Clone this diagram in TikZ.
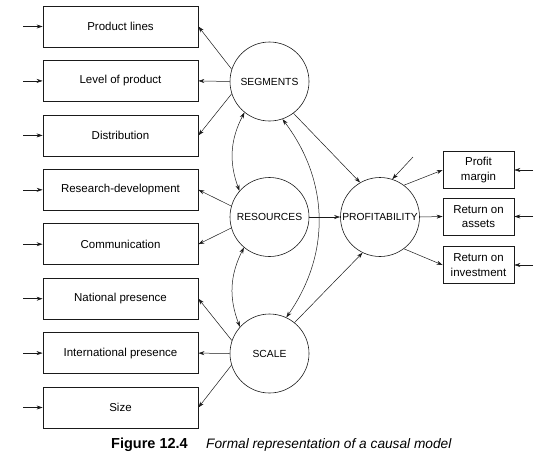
\documentclass[tikz,border=0pt]{standalone}
\usepackage{fontspec}
\setmainfont{Liberation Sans}
\usepackage{tikz}
\usetikzlibrary{arrows.meta,positioning}
\definecolor{cline}{HTML}{1A1A1A}
\tikzset{
  item/.style={draw=cline, line width=0.8pt, rectangle, minimum width=155pt, minimum height=41pt, inner sep=2pt, font=\fontsize{11.5}{14.5}\selectfont},
  ritem/.style={item, minimum width=71pt, minimum height=37pt, align=center},
  factor/.style={draw=cline, line width=0.6pt, circle, minimum size=79pt, inner sep=0pt, font=\fontsize{10.3}{12}\selectfont},
  pre/.style={-{Stealth[length=6pt,width=4pt]}, line width=0.5pt, cline},
  both/.style={{Stealth[length=6pt,width=4pt]}-{Stealth[length=6pt,width=4pt]}, line width=0.5pt, cline},
  lbl/.style={anchor=west, inner sep=0pt, font=\fontsize{13.5}{15}\selectfont},
}
\begin{document}
\begin{tikzpicture}[x=1pt,y=-1pt]
\useasboundingbox (0,0) rectangle (548,475);
% latent factors
\node[factor] (seg) at (269.5,81.5) {SEGMENTS};
\node[factor] (res) at (269.5,217) {RESOURCES};
\node[factor] (scl) at (269.5,353.5) {SCALE};
\node[factor] (prof) at (380,217) {PROFITABILITY};
% indicators on the left
\foreach \n/\y/\t in {
  pl/26.5/Product lines,
  lp/80.9/Level of product,
  dist/135.4/Distribution,
  rd/189.8/Research-development,
  comm/244.2/Communication,
  nat/298.7/National presence,
  intl/353.1/International presence,
  size/407.5/Size}{
  \node[item] (\n) at (120.5,\y) {\t};
  \coordinate (\n-in) at (23,\y);
  \draw[pre] (\n-in) -- (\n);
}
% indicators on the right
\foreach \n/\y/\t in {
  pm/170/{Profit\\margin},
  roa/216.5/{Return on\\assets},
  roi/265/{Return on\\investment}}{
  \node[ritem] (\n) at (478.5,\y) {\t};
  \coordinate (\n-in) at (533,\y);
  \draw[pre] (\n-in) -- (\n);
}
% loadings
\draw[pre] (seg.162) -- (pl.east);
\draw[pre] (seg.west) -- (lp.east);
\draw[pre] (seg.198) -- (dist.east);
\draw[pre] (res.164) -- (rd.east);
\draw[pre] (res.196) -- (comm.east);
\draw[pre] (scl.161) -- (nat.east);
\draw[pre] (scl.west) -- (intl.east);
\draw[pre] (scl.197) -- (size.east);
\draw[pre] (prof.53) -- (pm.west);
\draw[pre] (prof.east) -- (roa.west);
\draw[pre] (prof.-53) -- (roi.west);
% causal paths
\draw[pre] (seg.307) -- (prof.120);
\draw[pre] (res.east) -- (prof.west);
\draw[pre] (scl.51) -- (prof.244);
\coordinate (prof-in) at (413,157);
\draw[pre] (prof-in) -- (prof.72);
% correlations
\draw[both] (seg.231) to[bend right=24] (res.139);
\draw[both] (res.230) to[bend right=24] (scl.138);
\draw[both] (seg.289) to[bend left=36] (scl.65);
% caption
\node[lbl, font=\bfseries\fontsize{14.5}{16}\selectfont] (capnum) at (111,445) {Figure 12.4};
\node[lbl, font=\itshape\fontsize{13.7}{16}\selectfont] (captxt) at (206,445) {Formal representation of a causal model};
\end{tikzpicture}
\end{document}
